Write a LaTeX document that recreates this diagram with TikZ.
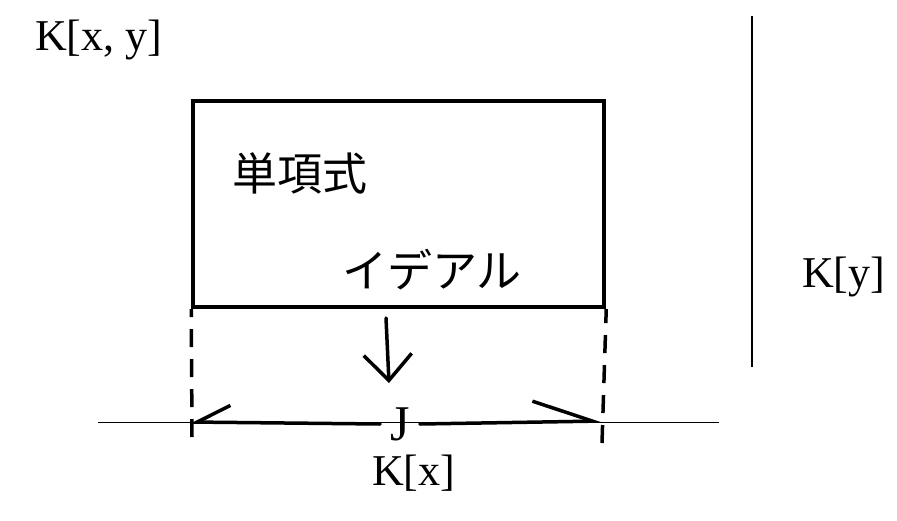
\documentclass[tikz,border=0pt]{standalone}
\usepackage{fontspec}
\setmainfont{Liberation Serif}
\newfontfamily\jpfont{Noto Sans CJK JP}
\usetikzlibrary{arrows.meta,positioning,calc}
\tikzset{
  lbl/.style={inner sep=0pt, font=\fontsize{44}{48}\selectfont},
  jlbl/.style={inner sep=0pt, font=\jpfont\fontsize{45}{50}\selectfont},
  box/.style={draw, line width=4pt, minimum width=411pt, minimum height=206pt},
  axis/.style={line width=1.3pt},
  guide/.style={line width=3.5pt, dash pattern=on 18pt off 12pt},
  pen/.style={line width=3.5pt, line cap=round},
  arrow/.style={pen, -{Straight Barb[length=26pt,width=48pt,line width=3.5pt]}}
}

\begin{document}
\begin{tikzpicture}[x=1pt,y=-1pt]
  \useasboundingbox (0,0) rectangle (897,520);
  % rings and axes
  \node[lbl, anchor=base west] (kxy) at (35,50) {K[x, y]};
  \node[lbl, anchor=base west] (ky) at (802,287) {K[y]};
  \node[lbl, anchor=base west] (kx) at (372,485) {K[x]};
  \coordinate (ytop) at (752,16);
  \coordinate (ybot) at (752,367);
  \coordinate (xl) at (98,422.5);
  \coordinate (xr) at (719,422.5);
  \draw[axis] (ytop) -- (ybot);
  \draw[axis] (xl) -- (xr);
  % monomial ideal
  \node[box] (mon) at (398.75,204) {};
  \node[jlbl] (tanko) at (300,173) {単項式};
  \node[jlbl] (ideal) at (432,270) {イデアル};
  % projection onto K[x]
  \coordinate (lend) at (192,437);
  \coordinate (rend) at (602,443);
  \draw[guide] (lend) -- (mon.south west);
  \draw[guide] (rend) -- (mon.south east);
  \coordinate (dtop) at (386,318);
  \coordinate (dtip) at (389,383);
  \draw[arrow] (dtop) -- (dtip);
  \node[inner sep=0pt, inner xsep=10pt, font=\fontsize{50}{54}\selectfont] (jj) at (400,424) {J};
  \coordinate (ltip) at (190,422);
  \coordinate (rtip) at (603,421);
  \draw[pen, -{Straight Barb[harpoon,swap,length=33pt,width=34pt,line width=3.5pt]}] (jj.west) -- (ltip);
  \draw[pen, -{Straight Barb[harpoon,length=60pt,width=42pt,line width=3.5pt]}] (jj.east) -- (rtip);
\end{tikzpicture}
\end{document}
